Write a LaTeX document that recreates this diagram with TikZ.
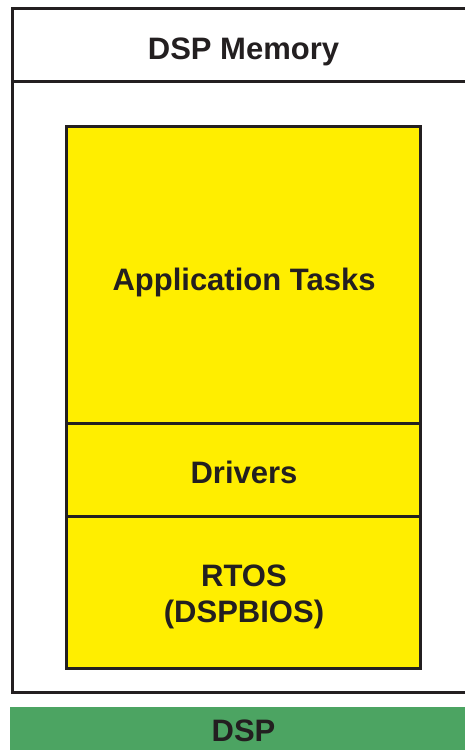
\documentclass[tikz,border=0pt]{standalone}
\usepackage{fontspec}
\setmainfont{Liberation Sans}
\definecolor{ylw}{HTML}{FFEE00}
\definecolor{grn}{HTML}{4CA462}
\definecolor{ink}{HTML}{231F20}
\begin{document}
\begin{tikzpicture}[x=1pt,y=1pt,
  boxline/.style={draw=ink,line width=3pt},
  lbl/.style={font=\fontsize{31}{36}\selectfont\bfseries,text=ink,align=center}]
\useasboundingbox (0,0) rectangle (465,750);
\begin{scope}
\clip (0,0) rectangle (465,750);
% outer memory box
\draw[boxline] (12,741) rectangle (480,57);
\draw[boxline] (12,668) -- (480,668);
% green DSP bar
\fill[grn] (10,43) rectangle (480,-5);
% yellow stack
\filldraw[boxline,fill=ylw] (66,623) rectangle (420,81);
\draw[boxline] (66,326) -- (420,326);
\draw[boxline] (66,233) -- (420,233);
\end{scope}
\node[lbl] (mem) at (243.5,698) {DSP Memory};
\node[lbl] (app) at (244,468) {Application Tasks};
\node[lbl] (drv) at (244,278) {Drivers};
\node[lbl] (rtos) at (244,153) {RTOS\\(DSPBIOS)};
\node[lbl] (dsp) at (243.5,19) {DSP};
\end{tikzpicture}
\end{document}
